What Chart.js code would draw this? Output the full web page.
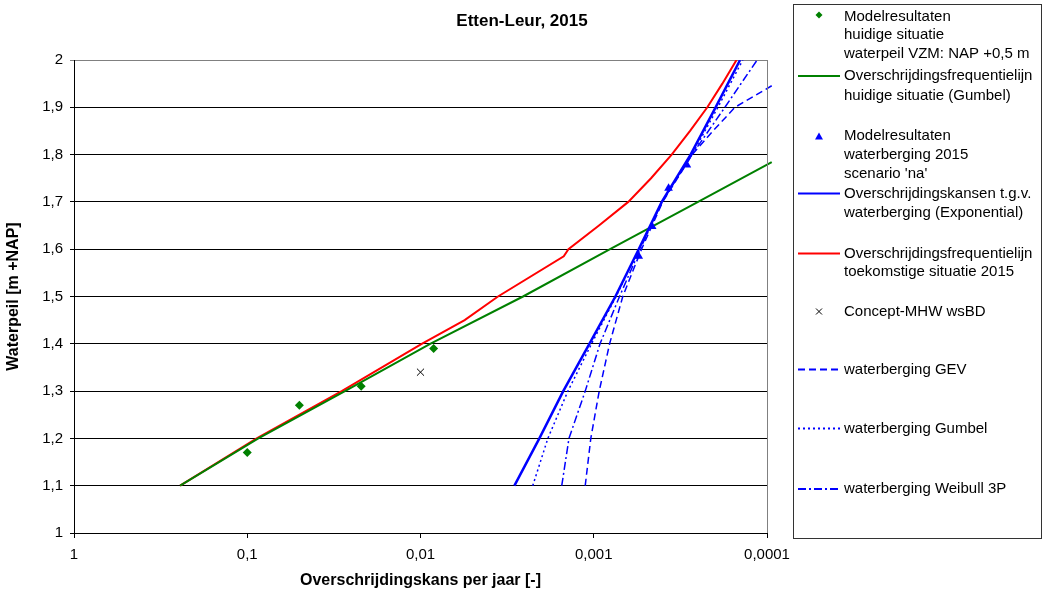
<!DOCTYPE html>
<html>
<head>
<meta charset="utf-8">
<script src="https://cdn.jsdelivr.net/npm/chart.js@4/dist/chart.umd.min.js"></script>
<style>
html,body{margin:0;padding:0;background:#fff;}
#wrap{width:1044px;height:592px;position:relative;}
</style>
</head>
<body>
<div id="wrap"><canvas id="c" width="1044" height="592"></canvas></div>
<script>
const FONT = '"Liberation Sans", Arial, Helvetica, sans-serif';

// ---- tick labels ----
const xTickValues = [1, 0.1, 0.01, 0.001, 0.0001];
const xTickLabels = ['1', '0,1', '0,01', '0,001', '0,0001'];
const yTickValues = [1, 1.1, 1.2, 1.3, 1.4, 1.5, 1.6, 1.7, 1.8, 1.9, 2];
const yTickLabels = ['1', '1,1', '1,2', '1,3', '1,4', '1,5', '1,6', '1,7', '1,8', '1,9', '2'];

// ---- series (x = overschrijdingskans per jaar, y = waterpeil) ----
const modelHuidigP = [0.1, 0.05, 0.022, 0.0084];
const modelHuidigH = [1.17, 1.27, 1.31, 1.39];

const modelBergingP = [0.00055, 0.00046, 0.00037, 0.00029];
const modelBergingH = [1.585, 1.648, 1.729, 1.778];

const conceptP = [0.01];
const conceptH = [1.34];

const gumbelHuidigH = [1.1, 1.2, 1.3, 1.4, 1.5, 1.6, 1.7, 1.784];
const gumbelHuidigP = [0.244, 0.0863, 0.0273, 0.0088, 0.00256, 0.000805, 0.00025, 0.0000939];

const exponentialH = [1.1, 1.2, 1.3, 1.4, 1.5, 1.6, 1.7, 1.8, 1.9, 2.0];
const exponentialP = [0.00287, 0.00206, 0.0015, 0.00106, 0.00075, 0.00055, 0.000405, 0.000276, 0.000198, 0.000143];

const toekomstH = [1.1, 1.2, 1.3, 1.4, 1.45, 1.5, 1.585, 1.6, 1.65, 1.7, 1.75, 1.8, 1.85, 1.9, 1.95, 2.0];
const toekomstP = [0.244, 0.0882, 0.0285, 0.00984, 0.00556, 0.00357, 0.00149, 0.0014, 0.000933, 0.000632, 0.000467, 0.000355, 0.000278, 0.000221, 0.000181, 0.00015];

const gevH = [1.1, 1.2, 1.3, 1.4, 1.5, 1.6, 1.7, 1.8, 1.85, 1.9, 1.946];
const gevP = [0.00112, 0.00104, 0.00093, 0.00081, 0.00068, 0.00053, 0.0004, 0.00027, 0.000205, 0.000153, 0.0000935];

const gumbelBergingH = [1.1, 1.2, 1.3, 1.4, 1.5, 1.6, 1.7, 1.8, 1.9, 2.0];
const gumbelBergingP = [0.00225, 0.00184, 0.00141, 0.00103, 0.000744, 0.000548, 0.000404, 0.000271, 0.000192, 0.000138];

const weibullH = [1.1, 1.2, 1.3, 1.4, 1.5, 1.6, 1.7, 1.8, 1.9, 2.0];
const weibullP = [0.00153, 0.00139, 0.00112, 0.00092, 0.00071, 0.00054, 0.000404, 0.000271, 0.000175, 0.000114];

function pts(ps, hs) { return ps.map((p, i) => ({x: p, y: hs[i]})); }

const GREEN = '#008000', BLUE = '#0000FF', RED = '#FF0000';

// ---- legend entries ----
const legendItems = [
  {type: 'diamond', color: GREEN, y: 15, lines: ['Modelresultaten', 'huidige situatie', 'waterpeil VZM: NAP +0,5 m'], ty: [16.5, 35, 53.5]},
  {type: 'line', color: GREEN, dash: [], y: 76, lines: ['Overschrijdingsfrequentielijn', 'huidige situatie (Gumbel)'], ty: [76, 95.5]},
  {type: 'triangle', color: BLUE, y: 136.5, lines: ['Modelresultaten', 'waterberging 2015', "scenario 'na'"], ty: [135.5, 154.5, 173.5]},
  {type: 'line', color: BLUE, dash: [], y: 193.5, lines: ['Overschrijdingskansen t.g.v.', 'waterberging (Exponential)'], ty: [193.5, 213]},
  {type: 'line', color: RED, dash: [], y: 253.5, lines: ['Overschrijdingsfrequentielijn', 'toekomstige situatie 2015'], ty: [253.5, 272]},
  {type: 'cross', color: '#000', y: 311.5, lines: ['Concept-MHW wsBD'], ty: [311.5]},
  {type: 'line', color: BLUE, dash: [7, 4], y: 369.5, lines: ['waterberging GEV'], ty: [369.5]},
  {type: 'line', color: BLUE, dash: [2, 3], y: 428.5, lines: ['waterberging Gumbel'], ty: [428.5]},
  {type: 'line', color: BLUE, dash: [8, 3, 2, 3], y: 489, lines: ['waterberging Weibull 3P'], ty: [489]}
];

const decorPlugin = {
  id: 'decor',
  afterDraw(chart) {
    const ctx = chart.ctx;
    const a = chart.chartArea;
    ctx.save();
    // right border of plot area
    ctx.strokeStyle = '#808080';
    ctx.lineWidth = 1;
    ctx.beginPath();
    ctx.moveTo(Math.round(a.right) + 0.5, a.top);
    ctx.lineTo(Math.round(a.right) + 0.5, a.bottom);
    ctx.stroke();
    // title
    ctx.fillStyle = '#000';
    ctx.font = 'bold 17px ' + FONT;
    ctx.textAlign = 'center';
    ctx.textBaseline = 'middle';
    ctx.fillText('Etten-Leur, 2015', 522, 21);
    // legend box
    ctx.strokeStyle = '#333';
    ctx.lineWidth = 1;
    ctx.strokeRect(793.5, 4.5, 248, 534);
    ctx.font = '15px ' + FONT;
    ctx.textAlign = 'left';
    ctx.textBaseline = 'middle';
    const mx = 819;
    legendItems.forEach(it => {
      ctx.save();
      if (it.type === 'line') {
        ctx.strokeStyle = it.color;
        ctx.lineWidth = 2;
        ctx.setLineDash(it.dash);
        ctx.beginPath();
        ctx.moveTo(798, it.y);
        ctx.lineTo(840, it.y);
        ctx.stroke();
      } else if (it.type === 'diamond') {
        ctx.fillStyle = it.color;
        ctx.beginPath();
        ctx.moveTo(mx, it.y - 3.5);
        ctx.lineTo(mx + 3.5, it.y);
        ctx.lineTo(mx, it.y + 3.5);
        ctx.lineTo(mx - 3.5, it.y);
        ctx.closePath();
        ctx.fill();
      } else if (it.type === 'triangle') {
        ctx.fillStyle = it.color;
        ctx.beginPath();
        ctx.moveTo(mx, it.y - 4);
        ctx.lineTo(mx + 4, it.y + 3);
        ctx.lineTo(mx - 4, it.y + 3);
        ctx.closePath();
        ctx.fill();
      } else if (it.type === 'cross') {
        ctx.strokeStyle = it.color;
        ctx.lineWidth = 1;
        ctx.beginPath();
        ctx.moveTo(mx - 3, it.y - 3); ctx.lineTo(mx + 3, it.y + 3);
        ctx.moveTo(mx + 3, it.y - 3); ctx.lineTo(mx - 3, it.y + 3);
        ctx.stroke();
      }
      ctx.restore();
      ctx.fillStyle = '#000';
      it.lines.forEach((t, i) => ctx.fillText(t, 844, it.ty[i]));
    });
    ctx.restore();
  }
};

Chart.defaults.font.family = FONT;
Chart.defaults.color = '#000';

new Chart(document.getElementById('c'), {
  type: 'scatter',
  data: {
    datasets: [
      {label: 'Modelresultaten huidige situatie', data: pts(modelHuidigP, modelHuidigH),
       pointStyle: 'rectRot', pointRadius: 4.5, backgroundColor: GREEN, borderColor: GREEN, borderWidth: 0, showLine: false},
      {label: 'Modelresultaten waterberging', data: pts(modelBergingP, modelBergingH),
       pointStyle: 'triangle', pointRadius: 5, backgroundColor: BLUE, borderColor: BLUE, borderWidth: 0, showLine: false},
      {label: 'Concept-MHW wsBD', data: pts(conceptP, conceptH),
       pointStyle: 'crossRot', pointRadius: 5, backgroundColor: '#000', borderColor: '#000', borderWidth: 1, showLine: false},
      {label: 'Exponential', data: pts(exponentialP, exponentialH), showLine: true, pointRadius: 0,
       borderColor: BLUE, borderWidth: 2.5, tension: 0},
      {label: 'Gumbel huidig', data: pts(gumbelHuidigP, gumbelHuidigH), showLine: true, pointRadius: 0,
       borderColor: GREEN, borderWidth: 2, tension: 0, clip: {left: 0, top: 0, right: 6, bottom: 0}},
      {label: 'Toekomstig', data: pts(toekomstP, toekomstH), showLine: true, pointRadius: 0,
       borderColor: RED, borderWidth: 2, tension: 0},
      {label: 'GEV', data: pts(gevP, gevH), showLine: true, pointRadius: 0,
       borderColor: BLUE, borderWidth: 1.5, borderDash: [7, 4], tension: 0, clip: {left: 0, top: 0, right: 6, bottom: 0}},
      {label: 'Gumbel berging', data: pts(gumbelBergingP, gumbelBergingH), showLine: true, pointRadius: 0,
       borderColor: BLUE, borderWidth: 1.5, borderDash: [2, 3], tension: 0},
      {label: 'Weibull 3P', data: pts(weibullP, weibullH), showLine: true, pointRadius: 0,
       borderColor: BLUE, borderWidth: 1.5, borderDash: [8, 3, 2, 3], tension: 0}
    ]
  },
  options: {
    responsive: false,
    animation: false,
    layout: {padding: {left: 0, right: 277, top: 60, bottom: 0}},
    plugins: {legend: {display: false}, title: {display: false}, tooltip: {enabled: false}},
    scales: {
      x: {
        type: 'logarithmic', min: 0.0001, max: 1, reverse: true,
        afterBuildTicks: s => { s.ticks = xTickValues.map(v => ({value: v})); },
        afterFit: s => { s.height = 59; },
        ticks: {callback: (v, i) => xTickLabels[i], autoSkip: false, maxRotation: 0, padding: 8, color: '#000', font: {size: 15}},
        grid: {drawOnChartArea: false, drawTicks: true, tickLength: 5, color: '#000'},
        border: {display: true, color: '#000', width: 1},
        title: {display: true, text: 'Overschrijdingskans per jaar [-]', color: '#000', font: {size: 16, weight: 'bold'}, padding: {top: 0, bottom: 2}}
      },
      y: {
        type: 'linear', min: 1, max: 2,
        afterBuildTicks: s => { s.ticks = yTickValues.map(v => ({value: v})); },
        afterFit: s => { s.width = 74; },
        ticks: {callback: (v, i) => yTickLabels[i], autoSkip: false, padding: 7, color: '#000', font: {size: 15}},
        grid: {drawTicks: true, tickLength: 4, lineWidth: 1,
               color: c => (c.tick && c.tick.value > 1.99) ? '#808080' : '#000'},
        border: {display: true, color: '#000', width: 1},
        title: {display: true, text: 'Waterpeil [m +NAP]', color: '#000', font: {size: 16, weight: 'bold'}, padding: {top: 4, bottom: 0}}
      }
    }
  },
  plugins: [decorPlugin]
});
</script>
</body>
</html>
